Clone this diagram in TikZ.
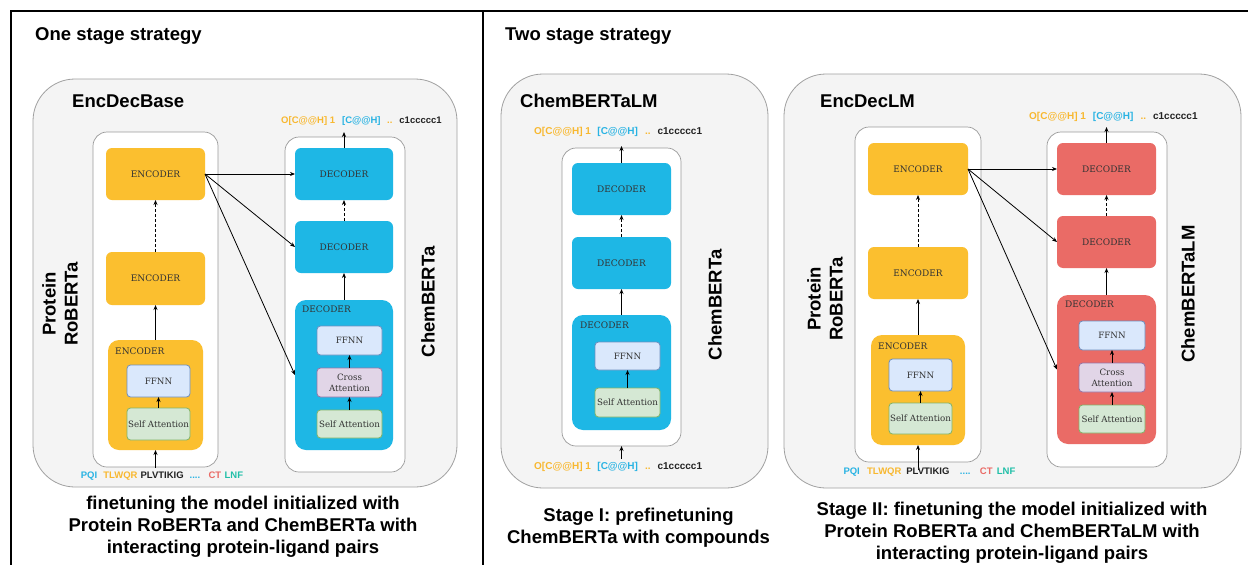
\documentclass[tikz,border=0pt]{standalone}
\usepackage{fontspec}
\setmainfont{Liberation Sans}
\newfontfamily\boxfont{DejaVu Serif}
\usetikzlibrary{arrows.meta}
\definecolor{encY}{HTML}{FBBF2F}
\definecolor{decC}{HTML}{1EB7E5}
\definecolor{decR}{HTML}{EA6B66}
\definecolor{ffnnF}{HTML}{DAE8FC}
\definecolor{ffnnD}{HTML}{6C8EBF}
\definecolor{saF}{HTML}{D5E8D4}
\definecolor{saD}{HTML}{82B366}
\definecolor{caF}{HTML}{E1D5E7}
\definecolor{caD}{HTML}{9673A6}
\definecolor{outF}{HTML}{F4F4F4}
\definecolor{outD}{HTML}{A0A0A0}
\definecolor{contD}{HTML}{9A9A9A}
\definecolor{dark}{HTML}{333333}
\definecolor{ty}{HTML}{F8B830}
\definecolor{tc}{HTML}{29B3E3}
\definecolor{tr}{HTML}{EA6B66}
\definecolor{tt}{HTML}{20BFA8}
\definecolor{tk}{HTML}{222222}
\newcommand{\smilestok}[3]{\textcolor{ty}{O[C@@H] 1}\hspace{#1}\textcolor{tc}{[C@@H]}\hspace{#2}\textcolor{ty}{..}\hspace{#3}\textcolor{tk}{c1ccccc1}}
\newcommand{\prottok}[5]{\textcolor{tc}{PQI}\hspace{#1}\textcolor{ty}{TLWQR}\hspace{#2}\textcolor{tk}{PLVTIKIG}\hspace{#3}\textcolor{tc}{....}\hspace{#4}\textcolor{tr}{CT}\hspace{#5}\textcolor{tt}{LNF}}
\tikzset{
  outer/.style={draw=outD, fill=outF, line width=0.8pt, rounded corners=42pt, inner sep=0pt, outer sep=0pt},
  cont/.style={draw=contD, fill=white, line width=0.7pt, rounded corners=14pt, inner sep=0pt, outer sep=0pt},
  encbox/.style={fill=encY, rounded corners=6pt, inner sep=0pt, outer sep=0pt, text=dark, font=\boxfont\fontsize{9}{10}\selectfont},
  decbox/.style={encbox, fill=decC},
  decrbox/.style={encbox, fill=decR},
  bigbox/.style={rounded corners=11pt},
  sub/.style={rounded corners=3.5pt, line width=0.8pt, inner sep=0pt, outer sep=0pt, text=dark, align=center, font=\boxfont\fontsize{8.7}{11}\selectfont},
  ffnn/.style={sub, fill=ffnnF, draw=ffnnD},
  satt/.style={sub, fill=saF, draw=saD},
  catt/.style={sub, fill=caF, draw=caD},
  arr/.style={-{Stealth[length=5pt,width=4pt]}, line width=0.8pt},
  darr/.style={arr, dash pattern=on 3pt off 2pt},
  title/.style={font=\fontsize{18.5}{22}\selectfont\bfseries, inner sep=0pt},
  boxlbl/.style={font=\boxfont\fontsize{9}{10}\selectfont, text=dark, inner sep=0pt, anchor=west},
  tok/.style={font=\fontsize{9.5}{11}\selectfont\bfseries, inner sep=0pt, anchor=west},
  tokb/.style={tok, font=\fontsize{10}{11}\selectfont\bfseries},
  frame/.style={line width=1.2pt}
}
\begin{document}
\begin{tikzpicture}[x=1pt,y=-1pt]
\useasboundingbox (0,0) rectangle (1248,565);
% frame
\coordinate (fBL) at (11,565);
\coordinate (fTL) at (11,11);
\coordinate (fTR) at (1248,11);
\coordinate (dT) at (483,11);
\coordinate (dB) at (483,565);
\draw[frame] (fBL) -- (fTL) -- (fTR);
\draw[frame] (dT) -- (dB);

% ================= LEFT PANEL =================
\node[title, anchor=west] (tL) at (35,36) {One stage strategy};
\node[outer, minimum width=424, minimum height=408] (oL) at (245,283) {};
\node[title, anchor=west] (nL) at (72,101) {EncDecBase};
\node[cont, minimum width=125, minimum height=335] (cEL) at (155.5,299.5) {};
\node[cont, minimum width=120, minimum height=335] (cDL) at (345,304.5) {};

\node[encbox, minimum width=99, minimum height=52] (enc1L) at (155.5,174) {ENCODER};
\node[encbox, minimum width=99, minimum height=53] (enc2L) at (155.5,278.5) {ENCODER};
\node[encbox, bigbox, minimum width=95, minimum height=110] (enc3L) at (155.5,395) {};
\node[boxlbl] (l3L) at (115,351) {ENCODER};
\node[ffnn, minimum width=63, minimum height=32] (ffL) at (158.5,381) {FFNN};
\node[satt, minimum width=63, minimum height=32] (saL) at (158.5,424) {Self Attention};
\draw[arr] (saL) -- (ffL);
\draw[arr] (enc3L) -- (enc2L);
\draw[darr] (enc2L) -- (enc1L);
\coordinate (inL) at (155.5,468);
\draw[arr] (inL) -- (enc3L.south);
\node[tok] (pL) at (80.7,476) {\prottok{6pt}{3pt}{6pt}{8.4pt}{3.3pt}};

\node[decbox, minimum width=98, minimum height=52] (dec1L) at (344,174) {DECODER};
\node[decbox, minimum width=98, minimum height=52] (dec2L) at (344,247) {DECODER};
\node[decbox, bigbox, minimum width=98, minimum height=150] (dec3L) at (344,375) {};
\node[boxlbl] (l4L) at (302,309) {DECODER};
\node[ffnn, minimum width=65, minimum height=29] (ffDL) at (349.5,340.5) {FFNN};
\node[catt, minimum width=65, minimum height=29] (caDL) at (349.5,382.5) {Cross\\Attention};
\node[satt, minimum width=65, minimum height=28] (saDL) at (349.5,424) {Self Attention};
\draw[arr] (saDL) -- (caDL);
\draw[arr] (caDL) -- (ffDL);
\draw[arr] (dec3L) -- (dec2L);
\draw[darr] (dec2L) -- (dec1L);
\coordinate (outL) at (344,132);
\draw[arr] (dec1L.north) -- (outL);
\node[tok] (sL) at (281,121) {\smilestok{7pt}{6.5pt}{7pt}};

\draw[arr] (enc1L.east) -- (dec1L.west);
\draw[arr] (enc1L.east) -- (dec2L.west);
\draw[arr] (enc1L.east) -- (dec3L.west);

\node[title, rotate=90, align=center] (rPL) at (60,304) {Protein\\RoBERTa};
\node[title, rotate=90] (rCL) at (428,302) {ChemBERTa};
\node[title, align=center] (capL) at (243,527) {finetuning the model initialized with\\Protein RoBERTa and ChemBERTa with\\interacting protein-ligand pairs};

% ================= MIDDLE PANEL =================
\node[title, anchor=west] (tM) at (505,36) {Two stage strategy};
\node[outer, minimum width=267, minimum height=414] (oM) at (634.5,281) {};
\node[title, anchor=west] (nM) at (520,101) {ChemBERTaLM};
\node[cont, minimum width=119, minimum height=298] (cM) at (621.5,297) {};
\node[decbox, minimum width=99, minimum height=52] (dec1M) at (621.5,189) {DECODER};
\node[decbox, minimum width=99, minimum height=52] (dec2M) at (621.5,263) {DECODER};
\node[decbox, bigbox, minimum width=99, minimum height=115] (dec3M) at (621.5,372.5) {};
\node[boxlbl] (l3M) at (580,325) {DECODER};
\node[ffnn, minimum width=65, minimum height=28] (ffM) at (627.5,356) {FFNN};
\node[satt, minimum width=65, minimum height=29] (saM) at (627.5,402.5) {Self Attention};
\draw[arr] (saM) -- (ffM);
\draw[arr] (dec3M) -- (dec2M);
\draw[darr] (dec2M) -- (dec1M);
\coordinate (outM) at (621.5,146);
\draw[arr] (dec1M.north) -- (outM);
\coordinate (inM) at (621.5,459);
\draw[arr] (inM) -- (cM.south);
\node[tokb] (sM1) at (534,131.5) {\smilestok{6.5pt}{7pt}{7pt}};
\node[tokb] (sM2) at (534,466.5) {\smilestok{6.5pt}{7pt}{7pt}};
\node[title, rotate=90] (rCM) at (715,305) {ChemBERTa};
\node[title, align=center] (capM) at (638.5,527.5) {Stage I: prefinetuning\\ChemBERTa with compounds};

% ================= RIGHT PANEL =================
\node[outer, minimum width=457, minimum height=414] (oR) at (1012.5,281) {};
\node[title, anchor=west] (nR) at (820,101) {EncDecLM};
\node[cont, minimum width=126, minimum height=335] (cER) at (918,294.5) {};
\node[cont, minimum width=120, minimum height=335] (cDR) at (1107,299.5) {};

\node[encbox, minimum width=100, minimum height=52] (enc1R) at (918,169) {ENCODER};
\node[encbox, minimum width=100, minimum height=52] (enc2R) at (918,273) {ENCODER};
\node[encbox, bigbox, minimum width=94, minimum height=110] (enc3R) at (918,390) {};
\node[boxlbl] (l3R) at (878,346) {ENCODER};
\node[ffnn, minimum width=63, minimum height=32] (ffR) at (920.5,375) {FFNN};
\node[satt, minimum width=63, minimum height=31] (saR) at (920.5,418.5) {Self Attention};
\draw[arr] (saR) -- (ffR);
\draw[arr] (enc3R) -- (enc2R);
\draw[darr] (enc2R) -- (enc1R);
\coordinate (inR) at (918,470);
\draw[arr] (inR) -- (enc3R.south);
\node[tok] (pR) at (843.3,472) {\prottok{7.3pt}{4.9pt}{10.5pt}{9.4pt}{4.3pt}};

\node[decrbox, minimum width=99, minimum height=52] (dec1R) at (1106.5,169) {DECODER};
\node[decrbox, minimum width=99, minimum height=52] (dec2R) at (1106.5,242) {DECODER};
\node[decrbox, bigbox, minimum width=99, minimum height=149] (dec3R) at (1106.5,369.5) {};
\node[boxlbl] (l4R) at (1065,304) {DECODER};
\node[ffnn, minimum width=66, minimum height=29] (ffDR) at (1112,335.5) {FFNN};
\node[catt, minimum width=66, minimum height=29] (caDR) at (1112,377.5) {Cross\\Attention};
\node[satt, minimum width=66, minimum height=28] (saDR) at (1112,419) {Self Attention};
\draw[arr] (saDR) -- (caDR);
\draw[arr] (caDR) -- (ffDR);
\draw[arr] (dec3R) -- (dec2R);
\draw[darr] (dec2R) -- (dec1R);
\coordinate (outR) at (1106.5,127);
\draw[arr] (dec1R.north) -- (outR);
\node[tokb] (sR) at (1029,116.5) {\smilestok{7pt}{7pt}{7pt}};

\draw[arr] (enc1R.east) -- (dec1R.west);
\draw[arr] (enc1R.east) -- (dec2R.west);
\draw[arr] (enc1R.east) -- (dec3R.west);

\node[title, rotate=90, align=center] (rPR) at (825,299) {Protein\\RoBERTa};
\node[title, rotate=90] (rCR) at (1188,294) {ChemBERTaLM};
\node[title, align=center] (capR) at (1012,533) {Stage II: finetuning the model initialized with\\Protein RoBERTa and ChemBERTaLM with\\interacting protein-ligand pairs};
\end{tikzpicture}
\end{document}
